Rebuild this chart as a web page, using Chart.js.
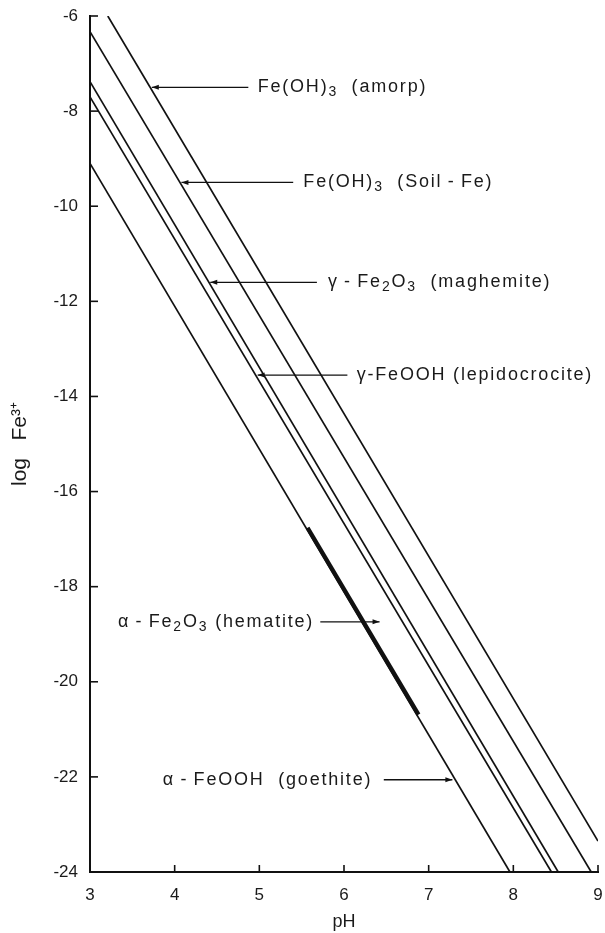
<!DOCTYPE html>
<html><head><meta charset="utf-8">
<script src="https://cdn.jsdelivr.net/npm/chart.js@4"></script>
<style>html,body{margin:0;padding:0;background:#fff}#wrap{width:605px;height:933px;position:relative}</style>
</head><body><div id="wrap"><canvas id="c"></canvas></div>
<script>
// ---- data ----
const pHTicks = [3, 4, 5, 6, 7, 8, 9];
const logTicks = [-6, -8, -10, -12, -14, -16, -18, -20, -22, -24];

const amorpPH = [3.21, 9.0];   const amorpLog = [-6.0, -23.35];
const soilPH  = [3.0, 8.92];   const soilLog  = [-6.33, -24.0];
const maghPH  = [3.0, 8.53];   const maghLog  = [-7.38, -24.0];
const lepiPH  = [3.0, 8.45];   const lepiLog  = [-7.7, -24.0];
const goetPH  = [3.0, 7.96];   const goetLog  = [-9.1, -24.0];
const hemaPH  = [5.57, 6.88];  const hemaLog  = [-16.76, -20.69];

// label texts: [text, subscript?]
const labelAmorp = [['Fe(OH)',0],['3',1],['  (amorp)',0]];
const labelSoil  = [['Fe(OH)',0],['3',1],['  (Soil\u2009-\u2009Fe)',0]];
const labelMagh  = [['γ\u2009-\u2009Fe',0],['2',1],['O',0],['3',1],['  (maghemite)',0]];
const labelLepi  = [['γ-FeOOH (lepidocrocite)',0]];
const labelHema  = [['α\u2009-\u2009Fe',0],['2',1],['O',0],['3',1],[' (hematite)',0]];
const labelGoet  = [['α\u2009-\u2009FeOOH  (goethite)',0]];

// annotation anchors in data units: level, arrow tail pH, arrow head pH, text start pH
const notes = [
  {lab: labelAmorp, y: -7.5,  tail: 4.87, head: 3.73, text: 4.98},
  {lab: labelSoil,  y: -9.5,  tail: 5.40, head: 4.08, text: 5.52},
  {lab: labelMagh,  y: -11.6, tail: 5.68, head: 4.42, text: 5.81},
  {lab: labelLepi,  y: -13.55,tail: 6.04, head: 4.98, text: 6.15},
  {lab: labelHema,  y: -18.74,tail: 5.72, head: 6.42, text: 3.33},
  {lab: labelGoet,  y: -22.06,tail: 6.47, head: 7.28, text: 3.86}
];

function pts(xs, ys){ return xs.map((x,i)=>({x:x, y:ys[i]})); }
function ds(xs, ys, w){ return {data: pts(xs,ys), showLine:true, borderColor:'#111', borderWidth:w, pointRadius:0, fill:false, tension:0}; }

const FONT = '"Liberation Sans", Arial, sans-serif';

const decor = {
  id:'decor',
  afterDraw(chart){
    const ctx = chart.ctx, xs = chart.scales.x, ys = chart.scales.y;
    const ca = chart.chartArea;
    ctx.save();
    ctx.strokeStyle = '#111'; ctx.lineWidth = 1.6;
    // inward ticks
    pHTicks.forEach(v=>{ const px = xs.getPixelForValue(v); ctx.beginPath(); ctx.moveTo(px, ca.bottom); ctx.lineTo(px, ca.bottom-7); ctx.stroke(); });
    logTicks.forEach(v=>{ const py = ys.getPixelForValue(v); ctx.beginPath(); ctx.moveTo(ca.left, py); ctx.lineTo(ca.left+8, py); ctx.stroke(); });
    // arrows + labels
    ctx.lineWidth = 1.3;
    notes.forEach(n=>{
      const py = ys.getPixelForValue(n.y);
      const x1 = xs.getPixelForValue(n.tail), x2 = xs.getPixelForValue(n.head);
      ctx.beginPath(); ctx.moveTo(x1, py); ctx.lineTo(x2, py); ctx.stroke();
      const dir = x2 > x1 ? -1 : 1;
      ctx.beginPath(); ctx.moveTo(x2, py); ctx.lineTo(x2 + dir*7, py-2.5); ctx.lineTo(x2 + dir*7, py+2.5); ctx.closePath(); ctx.fillStyle='#111'; ctx.fill();
      let tx = xs.getPixelForValue(n.text);
      ctx.textBaseline = 'middle'; ctx.textAlign = 'left';
      n.lab.forEach(seg=>{
        ctx.font = (seg[1] ? '14px ' : '18px ') + FONT;
        ctx.letterSpacing = '1.8px';
        ctx.fillStyle = '#1a1a1a';
        ctx.fillText(seg[0], tx, py + (seg[1] ? 5 : 0));
        tx += ctx.measureText(seg[0]).width;
      });
    });
    ctx.restore();
  }
};

new Chart(document.getElementById('c'), {
  type: 'scatter',
  data: { datasets: [
    ds(amorpPH, amorpLog, 1.7),
    ds(soilPH, soilLog, 1.7),
    ds(maghPH, maghLog, 1.7),
    ds(lepiPH, lepiLog, 1.7),
    ds(goetPH, goetLog, 1.7),
    ds(hemaPH, hemaLog, 4.2)
  ]},
  options: {
    responsive: true, maintainAspectRatio: false, animation: false,
    layout: { padding: {top: 16, right: 7, left: 0, bottom: 0} },
    plugins: { legend: {display:false}, tooltip: {enabled:false} },
    scales: {
      x: { type:'linear', min:3, max:9,
        afterFit(s){ s.height = 61; s.paddingRight = 0; s.paddingLeft = 0; },
        afterBuildTicks(s){ s.ticks = pHTicks.map(v=>({value:v})); },
        grid: { display:true, drawOnChartArea:false, drawTicks:false },
        border: { display:true, color:'#111', width:2 },
        ticks: { padding: 13, color:'#1a1a1a', font:{family:FONT, size:17} },
        title: { display:true, text:'pH', color:'#1a1a1a', font:{family:FONT, size:18}, padding:{top:0,bottom:0} } },
      y: { type:'linear', min:-24, max:-6,
        afterFit(s){ s.width = 90; s.paddingTop = 0; s.paddingBottom = 0; },
        afterBuildTicks(s){ s.ticks = logTicks.map(v=>({value:v})); },
        grid: { display:true, drawOnChartArea:false, drawTicks:false },
        border: { display:true, color:'#111', width:2 },
        ticks: { padding: 12, color:'#1a1a1a', font:{family:FONT, size:17} },
        title: { display:true, text:'log   Fe³⁺', color:'#1a1a1a', font:{family:FONT, size:21}, padding:{top:8,bottom:0} } }
    }
  },
  plugins: [decor]
});
</script></body></html>
